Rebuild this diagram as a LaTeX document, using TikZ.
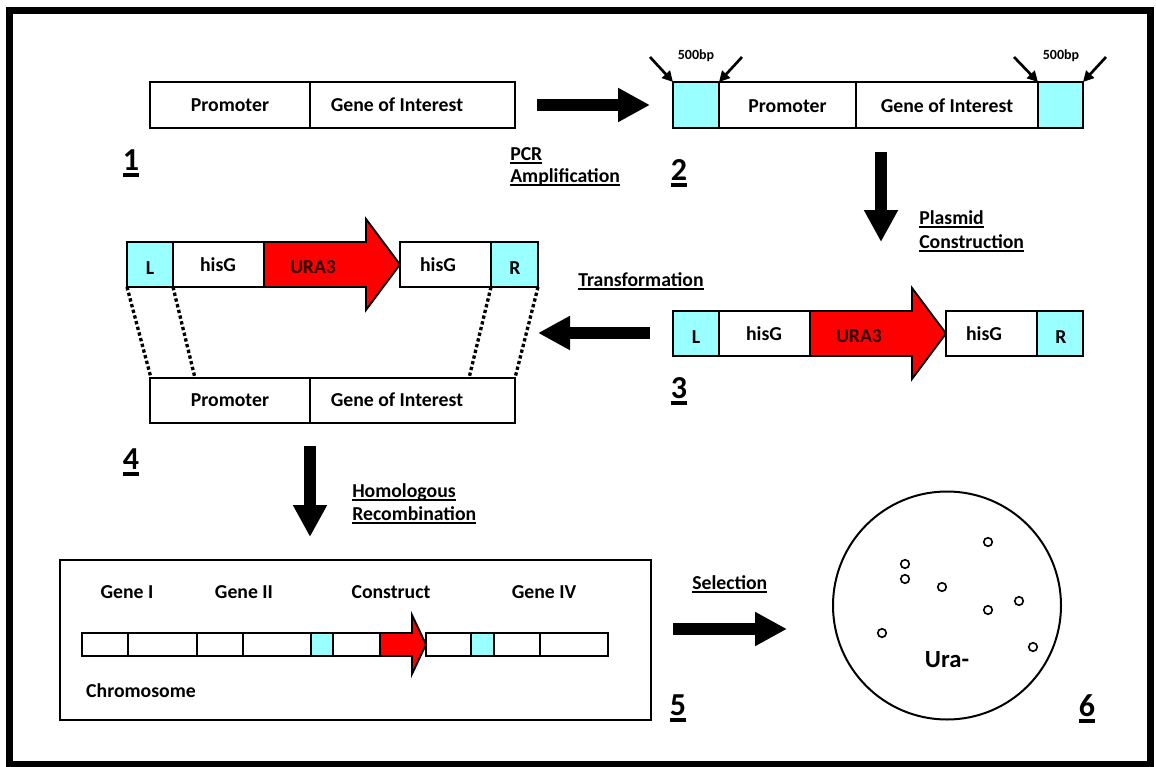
\documentclass[tikz,border=0pt]{standalone}
\usepackage{fontspec}
\setmainfont{Carlito}
\usetikzlibrary{fit,arrows.meta}
\definecolor{cyanc}{RGB}{153,255,255}
\definecolor{redc}{RGB}{255,0,0}
\definecolor{uratext}{RGB}{45,0,0}
\newcommand\fmain{\bfseries\fontsize{14.8pt}{17pt}\selectfont}
\newcommand\fsmall{\bfseries\fontsize{10.5pt}{12pt}\selectfont}
\newcommand\fbig{\bfseries\fontsize{18.5pt}{21pt}\selectfont}
\newcommand\fnum{\bfseries\fontsize{24pt}{28pt}\selectfont}
\newsavebox\ulbox
\newcommand\ulline[1]{\leavevmode\sbox\ulbox{#1}\rlap{\rule[-2.8pt]{\wd\ulbox}{1.1pt}}\usebox\ulbox}
\newcommand\ulnum[1]{\leavevmode\sbox\ulbox{#1}\rlap{\rule[-5.5pt]{\wd\ulbox}{3pt}}\usebox\ulbox}
\tikzset{
  cellbox/.style={draw=black, line width=1.4pt, inner sep=0pt, outer sep=0pt, fill=white},
  cyanbox/.style={cellbox, fill=cyanc},
  redarrow/.style={draw=black, line width=1.4pt, fill=redc, line join=miter},
  lbl/.style={font=\fmain, inner sep=0pt, anchor=base},
  small/.style={font=\fsmall, inner sep=0pt, anchor=base},
  steplbl/.style={font=\fmain, inner sep=0pt, anchor=base west},
  num/.style={font=\fnum, inner sep=0pt, anchor=base},
  bigarrow/.style={line width=9pt, -{Triangle[width=24pt,length=24pt]}},
  smallarrow/.style={line width=2pt, -{Triangle[width=8pt,length=8pt]}},
  dotline/.style={line width=2.5pt, dash pattern=on 2.5pt off 1.9pt},
  colony/.style={circle, draw=black, line width=1.2pt, minimum size=6.4pt, inner sep=0pt},
}
\begin{document}
\begin{tikzpicture}[x=0.75pt,y=-0.75pt]
\useasboundingbox (0,0) rectangle (1156,767);
\fill[white] (0,0) rectangle (1156,767);
\draw[line width=5.25pt] (9.5,10.5) rectangle (1150.5,764);

% ---------- Stage 1 ----------
\node[cellbox, fit={(150,82)(310,128)}] (s1p) {};
\node[cellbox, fit={(310,82)(515,128)}] (s1g) {};
\node[lbl] (t1p) at (230,112) {Promoter};
\node[lbl] (t1g) at (397,112) {Gene of Interest};
\node[num] (n1) at (131,170) {\ulnum{1}};

% ---------- Stage 2 ----------
\node[cyanbox, fit={(673,82)(719,128)}] (s2l) {};
\node[cellbox, fit={(719,82)(856,128)}] (s2p) {};
\node[cellbox, fit={(856,82)(1038,128)}] (s2g) {};
\node[cyanbox, fit={(1038,82)(1083,128)}] (s2r) {};
\node[lbl] (t2p) at (787.5,112.5) {Promoter};
\node[lbl] (t2g) at (947,112.5) {Gene of Interest};
\node[small] (bp1) at (696,60) {500bp};
\node[small] (bp2) at (1061,60) {500bp};
\coordinate (q1) at (650,57);
\coordinate (q2) at (742,57);
\coordinate (q3) at (1014,57);
\coordinate (q4) at (1106,57);
\draw[smallarrow] (q1) -- (s2l.north west);
\draw[smallarrow] (q2) -- (s2l.north east);
\draw[smallarrow] (q3) -- (s2r.north west);
\draw[smallarrow] (q4) -- (s2r.north east);
\node[num] (n2) at (679,180) {\ulnum{2}};

% arrow 1 -> 2
\coordinate (a12s) at (537,105);
\coordinate (a12e) at (650,105);
\draw[bigarrow] (a12s) -- (a12e);
\node[steplbl] (pcr1) at (510,160) {\ulline{PCR}};
\node[steplbl] (pcr2) at (510,182) {\ulline{Amplification}};

% arrow 2 -> 3
\coordinate (a23s) at (881,152);
\coordinate (a23e) at (881,242);
\draw[bigarrow] (a23s) -- (a23e);
\node[steplbl] (pl1) at (919,224) {\ulline{Plasmid}};
\node[steplbl] (pl2) at (919,248) {\ulline{Construction}};

% ---------- Stage 3 ----------
\node[cyanbox, fit={(673,311)(719,356)}] (s3l) {};
\node[cellbox, fit={(719,311)(810,356)}] (s3h) {};
\draw[redarrow] (810,311) -- (912,311) -- (912,288) -- (946,333.5) -- (912,379) -- (912,356) -- (810,356) -- cycle;
\coordinate (s3u) at (878,333.5);
\node[cellbox, fit={(946,311)(1037,356)}] (s3h2) {};
\node[cyanbox, fit={(1037,311)(1083,356)}] (s3r) {};
\node[lbl] (t3l) at (696,343) {L};
\node[lbl] (t3h) at (764,340) {hisG};
\node[lbl, text=uratext] (t3u) at (859,342) {URA3};
\node[lbl] (t3h2) at (984,340) {hisG};
\node[lbl] (t3r) at (1061,343) {R};
\node[num] (n3) at (679,398) {\ulnum{3}};

% arrow 3 -> 4
\coordinate (a34s) at (650,333);
\coordinate (a34e) at (538,333);
\draw[bigarrow] (a34s) -- (a34e);
\node[steplbl] (tr) at (578,286) {\ulline{Transformation}};

% ---------- Stage 4 ----------
\node[cyanbox, fit={(127,242)(173,287)}] (s4l) {};
\node[cellbox, fit={(173,242)(264,287)}] (s4h) {};
\draw[redarrow] (264,242) -- (366,242) -- (366,219) -- (400,264.5) -- (366,310) -- (366,287) -- (264,287) -- cycle;
\coordinate (s4u) at (332,264.5);
\node[cellbox, fit={(400,242)(491,287)}] (s4h2) {};
\node[cyanbox, fit={(491,242)(538,287)}] (s4r) {};
\node[lbl] (t4l) at (150,274) {L};
\node[lbl] (t4h) at (218,271) {hisG};
\node[lbl, text=uratext] (t4u) at (313,273) {URA3};
\node[lbl] (t4h2) at (438,271) {hisG};
\node[lbl] (t4r) at (515,274) {R};

\node[cellbox, fit={(150,378)(310,423)}] (s5p) {};
\node[cellbox, fit={(310,378)(515,423)}] (s5g) {};
\node[lbl] (t5p) at (230,406) {Promoter};
\node[lbl] (t5g) at (397,406) {Gene of Interest};
\coordinate (d1) at (151,378);
\coordinate (d2) at (195,378);
\coordinate (d3) at (469,378);
\coordinate (d4) at (515,378);
\draw[dotline] (s4l.south west) -- (d1);
\draw[dotline] (s4l.south east) -- (d2);
\draw[dotline] (s4r.south west) -- (d3);
\draw[dotline] (s4r.south east) -- (d4);
\node[num] (n4) at (131,469) {\ulnum{4}};

% arrow 4 -> 5
\coordinate (a45s) at (310,446);
\coordinate (a45e) at (310,537);
\draw[bigarrow] (a45s) -- (a45e);
\node[steplbl] (ho1) at (352,497) {\ulline{Homologous}};
\node[steplbl] (ho2) at (352,520) {\ulline{Recombination}};

% ---------- Stage 5 ----------
\node[draw=black, line width=1.5pt, inner sep=0pt, fit={(60,560)(651,720)}] (chrbox) {};
\node[cellbox, fit={(82,633)(128,656)}] (c1) {};
\node[cellbox, fit={(128,633)(197,656)}] (c2) {};
\node[cellbox, fit={(197,633)(243,656)}] (c3) {};
\node[cellbox, fit={(243,633)(311,656)}] (c4) {};
\node[cyanbox, fit={(311,633)(333,656)}] (c5) {};
\node[cellbox, fit={(333,633)(380,656)}] (c6) {};
\draw[redarrow] (380,633) -- (412,633) -- (412,615) -- (426,644.5) -- (412,674) -- (412,656) -- (380,656) -- cycle;
\node[cellbox, fit={(426,633)(471,656)}] (c7) {};
\node[cyanbox, fit={(471,633)(494,656)}] (c8) {};
\node[cellbox, fit={(494,633)(540,656)}] (c9) {};
\node[cellbox, fit={(540,633)(608,656)}] (c10) {};
\node[lbl] (g1) at (127,598) {Gene I};
\node[lbl] (g2) at (244,598) {Gene II};
\node[lbl] (g3) at (391,598) {Construct};
\node[lbl] (g4) at (544,598) {Gene IV};
\node[lbl] (chr) at (141,697) {Chromosome};
\node[num] (n5) at (678,715) {\ulnum{5}};

% arrow 5 -> 6
\coordinate (a56s) at (673,629);
\coordinate (a56e) at (787,629);
\draw[bigarrow] (a56s) -- (a56e);
\node[steplbl] (sel) at (692,589) {\ulline{Selection}};

% ---------- Stage 6 ----------
\node[circle, draw=black, line width=1.5pt, minimum size=171pt, inner sep=0pt] (plate) at (947,605.5) {};
\node[colony] (k1) at (988,542) {};
\node[colony] (k2) at (905,564) {};
\node[colony] (k3) at (905,579) {};
\node[colony] (k4) at (942,587) {};
\node[colony] (k5) at (988,610) {};
\node[colony] (k6) at (1019,601) {};
\node[colony] (k7) at (882,633) {};
\node[colony] (k8) at (1033,647) {};
\node[font=\fbig, inner sep=0pt, anchor=base] (ura) at (947,667) {Ura-};
\node[num] (n6) at (1087,716) {\ulnum{6}};
\end{tikzpicture}
\end{document}
